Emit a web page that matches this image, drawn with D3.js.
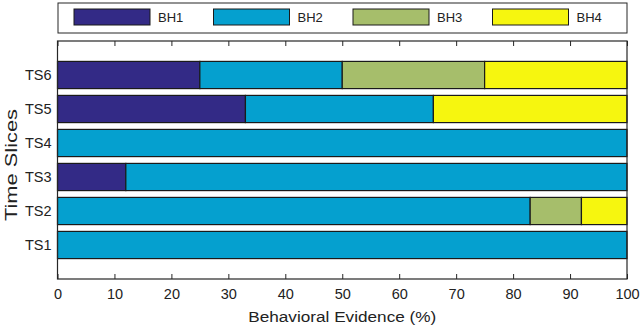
<!DOCTYPE html>
<html>
<head>
<meta charset="utf-8">
<script src="https://cdn.jsdelivr.net/npm/d3@7"></script>
<style>
  body { margin: 0; background: #fff; }
  text { font-family: "Liberation Sans", Arial, sans-serif; fill: #222; }
</style>
</head>
<body>
<div id="chart"></div>
<script>
// Data
var slices = ["TS1", "TS2", "TS3", "TS4", "TS5", "TS6"];
var behaviors = ["BH1", "BH2", "BH3", "BH4"];
var bh1 = [0, 0, 12, 0, 33, 25];
var bh2 = [100, 83, 88, 100, 33, 25];
var bh3 = [0, 9, 0, 0, 0, 25];
var bh4 = [0, 8, 0, 0, 34, 25];
var xTicks = [0, 10, 20, 30, 40, 50, 60, 70, 80, 90, 100];
var colors = ["#332a86", "#05a0cf", "#a6be6b", "#f6f60f"];

var svgWidth = 640, svgHeight = 326;
var margin = { top: 41, right: 13, bottom: 47, left: 57.5 };
var chartWidth = svgWidth - margin.left - margin.right;
var chartHeight = svgHeight - margin.top - margin.bottom;

var svg = d3.select("#chart").append("svg")
    .attr("width", svgWidth)
    .attr("height", svgHeight);

var chartGroup = svg.append("g")
    .attr("transform", `translate(${margin.left}, ${margin.top})`);

// build table rows for the stack
var rows = slices.map(function(s, i) {
  return { slice: s, BH1: bh1[i], BH2: bh2[i], BH3: bh3[i], BH4: bh4[i] };
});
var series = d3.stack().keys(behaviors)(rows);

var xScale = d3.scaleLinear().domain([0, 100]).range([0, chartWidth]);
// numeric y axis like matlab: slice i sits at i+1, limits 0..7
var yScale = d3.scaleLinear().domain([0, 7]).range([chartHeight, 0]);
var barH = (yScale(0) - yScale(0.8));

// bars
series.forEach(function(s, k) {
  chartGroup.selectAll("rect.s" + k)
    .data(s.filter(d => d[1] - d[0] > 0))
    .enter()
    .append("rect")
    .attr("class", "s" + k)
    .attr("x", d => xScale(d[0]))
    .attr("width", d => xScale(d[1]) - xScale(d[0]))
    .attr("y", d => yScale(slices.indexOf(d.data.slice) + 1) - barH / 2)
    .attr("height", barH)
    .attr("fill", colors[k])
    .attr("stroke", "#1a1a1a")
    .attr("stroke-width", 1.2);
});

// axes with inward ticks
var bottomAxis = d3.axisBottom(xScale).tickValues(xTicks).tickSize(-5).tickPadding(10);
var topAxis = d3.axisTop(xScale).tickValues(xTicks).tickSize(-5).tickFormat("");
var leftAxis = d3.axisLeft(yScale).tickValues([1, 2, 3, 4, 5, 6])
    .tickSize(0).tickPadding(6).tickFormat(d => slices[d - 1]);

var gx = chartGroup.append("g")
    .attr("transform", `translate(0, ${chartHeight})`)
    .call(bottomAxis);
var gt = chartGroup.append("g").call(topAxis);
var gy = chartGroup.append("g").call(leftAxis);

[gx, gt, gy].forEach(function(g) {
  g.select(".domain").remove();
  g.selectAll("line").attr("stroke", "#262626");
  g.selectAll("text").style("font-size", "14.5px").attr("fill", "#222");
});

// box around axes
chartGroup.append("rect")
  .attr("width", chartWidth)
  .attr("height", chartHeight)
  .attr("fill", "none")
  .attr("stroke", "#262626")
  .attr("stroke-width", 1.2);

// axis labels
chartGroup.append("text")
  .attr("x", chartWidth / 2)
  .attr("y", chartHeight + 42.5)
  .attr("text-anchor", "middle")
  .attr("textLength", 188)
  .attr("lengthAdjust", "spacingAndGlyphs")
  .style("font-size", "15.5px")
  .text("Behavioral Evidence (%)");

chartGroup.append("text")
  .attr("transform", "rotate(-90)")
  .attr("x", -124)
  .attr("y", -40.5)
  .attr("text-anchor", "middle")
  .attr("textLength", 112)
  .attr("lengthAdjust", "spacingAndGlyphs")
  .style("font-size", "17px")
  .text("Time Slices");

// legend
var legend = svg.append("g").attr("transform", "translate(58, 3)");
legend.append("rect")
  .attr("width", 569)
  .attr("height", 30)
  .attr("fill", "#fff")
  .attr("stroke", "#262626")
  .attr("stroke-width", 1);

var item = legend.selectAll("g.item")
  .data(behaviors)
  .enter()
  .append("g")
  .attr("class", "item")
  .attr("transform", (d, i) => `translate(${16 + i * 139.5}, 6)`);

item.append("rect")
  .attr("width", 76)
  .attr("height", 16)
  .attr("fill", (d, i) => colors[i])
  .attr("stroke", "#1a1a1a")
  .attr("stroke-width", 1);

item.append("text")
  .attr("x", 84)
  .attr("y", 13)
  .style("font-size", "13px")
  .text(d => d);
</script>
</body>
</html>
